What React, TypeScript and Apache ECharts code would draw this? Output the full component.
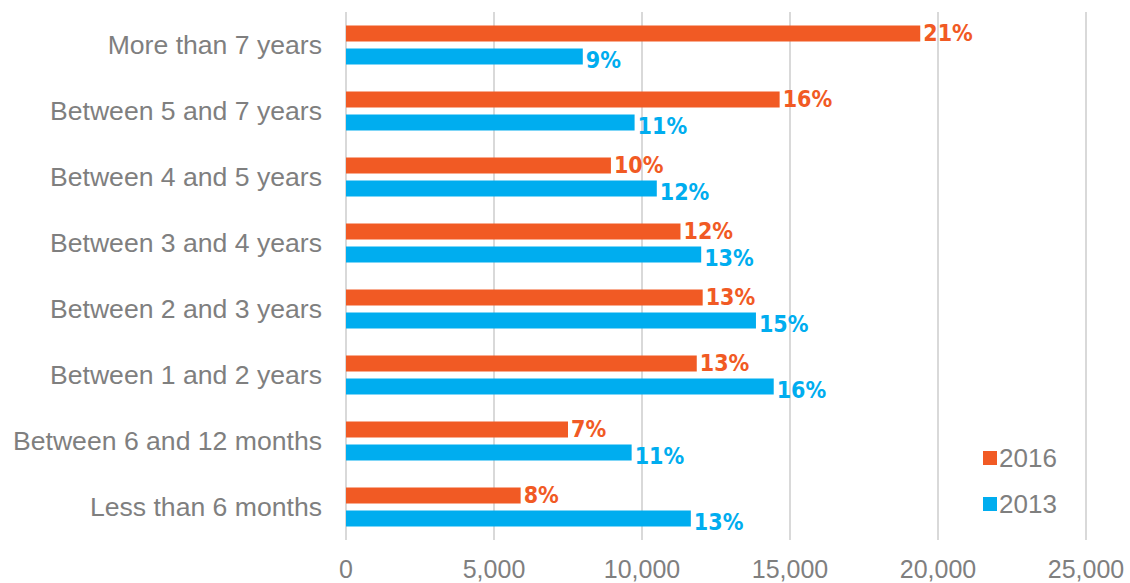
import React, { useEffect, useRef } from "react";
import * as echarts from "echarts";

const categories = [
  "More than 7 years",
  "Between 5 and 7 years",
  "Between 4 and 5 years",
  "Between 3 and 4 years",
  "Between 2 and 3 years",
  "Between 1 and 2 years",
  "Between 6 and 12 months",
  "Less than 6 months",
];
const values2016 = [19400, 14650, 8950, 11300, 12050, 11850, 7500, 5900];
const values2013 = [8000, 9750, 10500, 12000, 13850, 14450, 9650, 11650];
const labels2016 = ["21%", "16%", "10%", "12%", "13%", "13%", "7%", "8%"];
const labels2013 = ["9%", "11%", "12%", "13%", "15%", "16%", "11%", "13%"];

const ORANGE = "#F15A24";
const BLUE = "#00ADEF";
const GREY = "#7F7F7F";
const NARROW = "'DejaVu Sans Condensed', 'Liberation Sans Narrow', 'Liberation Sans', sans-serif";

export default function App() {
  const ref = useRef<HTMLDivElement>(null);
  useEffect(() => {
    if (!ref.current) return;
    const chart = echarts.init(ref.current, null, { renderer: "svg" });
    const labelStyle = (color: string, labels: string[], dy: number) => ({
      show: true,
      position: "right",
      distance: 3,
      offset: [0, dy],
      color,
      fontFamily: NARROW,
      fontWeight: "bold",
      fontSize: 23,
      lineHeight: 20,
      formatter: (p: any) => labels[p.dataIndex],
    });
    chart.setOption({
      animation: false,
      backgroundColor: "#ffffff",
      textStyle: { fontFamily: "Liberation Sans" },
      grid: { left: 346, right: 44, top: 12, bottom: 43, containLabel: false },
      legend: {
        orient: "vertical",
        left: 978,
        top: 440,
        itemWidth: 14,
        itemHeight: 14,
        itemGap: 20,
        icon: "rect",
        textStyle: { color: GREY, fontSize: 26, fontFamily: "Liberation Sans", padding: [0, 0, 0, -3] },
        data: ["2016", "2013"],
      },
      xAxis: {
        type: "value",
        min: 0,
        max: 25000,
        interval: 5000,
        axisLine: { show: false },
        axisTick: { show: false },
        splitLine: { show: true, lineStyle: { color: "#D9D9D9", width: 2 } },
        axisLabel: {
          color: GREY,
          fontSize: 25,
          lineHeight: 22,
          margin: 18,
          formatter: (v: number) => v.toLocaleString("en-US"),
        },
      },
      yAxis: {
        type: "category",
        inverse: true,
        data: categories,
        axisLine: { show: false },
        axisTick: { show: false },
        axisLabel: { color: GREY, fontSize: 26.6, margin: 24 },
      },
      series: [
        {
          name: "2016",
          type: "bar",
          data: values2016,
          itemStyle: { color: ORANGE },
          barWidth: 16,
          barGap: "44%",
          label: labelStyle(ORANGE, labels2016, 0),
        },
        {
          name: "2013",
          type: "bar",
          data: values2013,
          itemStyle: { color: BLUE },
          barWidth: 16,
          barGap: "44%",
          label: labelStyle(BLUE, labels2013, 3),
        },
      ],
    });
    return () => chart.dispose();
  }, []);
  return <div ref={ref} style={{ width: 1130, height: 583, position: "absolute", left: 0, top: 0 }} />;
}
